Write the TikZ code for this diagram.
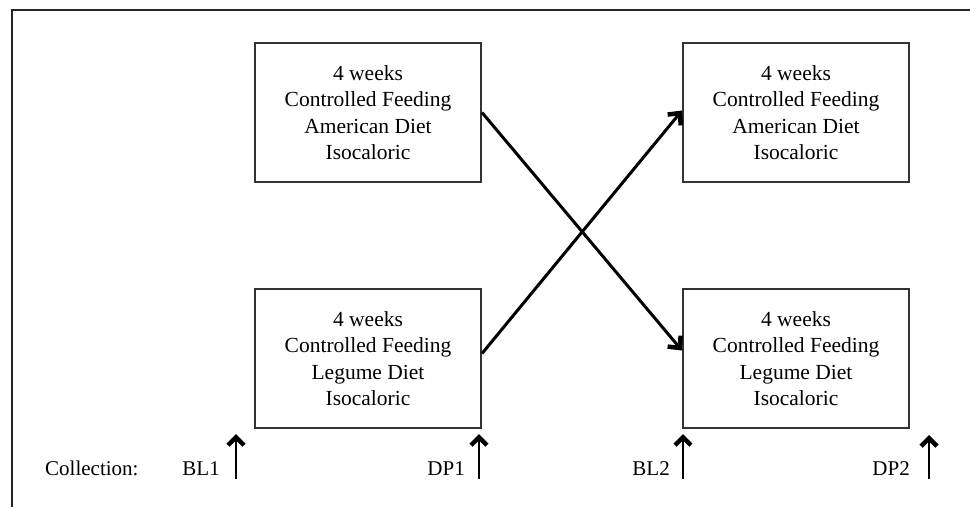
\documentclass[tikz,border=0pt]{standalone}
\usepackage{fontspec}
\setmainfont{Liberation Serif}
\usetikzlibrary{arrows.meta}
\begin{document}
\begin{tikzpicture}[x=1pt,y=-1pt,
  diet/.style={draw=black!80, line width=2pt, minimum width=226pt, minimum height=139pt,
    align=center, inner sep=0pt, font=\fontsize{21.5}{26.5}\selectfont},
  cross/.style={draw=black, line width=3pt, -{Straight Barb[length=9pt,width=17pt,line width=4.5pt]}},
  coll/.style={draw=black, line width=2.4pt, -{Straight Barb[length=8pt,width=16pt,line width=4.5pt]}},
  lbl/.style={anchor=base east, inner sep=0pt, font=\fontsize{21}{25}\selectfont}]
\useasboundingbox (0,0) rectangle (970,507);
\draw[line width=2pt, black!85] (12,507) -- (12,10) -- (970,10);

\node[diet] (tl) at (368,112.5) {4 weeks\\Controlled Feeding\\American Diet\\Isocaloric};
\node[diet] (tr) at (796,112.5) {4 weeks\\Controlled Feeding\\American Diet\\Isocaloric};
\node[diet] (bl) at (368,358.5) {4 weeks\\Controlled Feeding\\Legume Diet\\Isocaloric};
\node[diet] (br) at (796,358.5) {4 weeks\\Controlled Feeding\\Legume Diet\\Isocaloric};

\draw[cross] (tl.east) -- ([yshift=8pt]br.west);
\draw[cross] ([yshift=5pt]bl.east) -- ([yshift=2pt]tr.west);

\node[anchor=base west, inner sep=0pt, font=\fontsize{21}{25}\selectfont] (col) at (45,475) {Collection:};
\node[lbl] (bl1) at (220,475) {BL1};
\node[lbl] (dp1) at (465,475) {DP1};
\node[lbl] (bl2) at (670,475) {BL2};
\node[lbl] (dp2) at (910,475) {DP2};

\coordinate (a1s) at (236,479); \coordinate (a1e) at (236,434);
\coordinate (a2s) at (479,479); \coordinate (a2e) at (479,434);
\coordinate (a3s) at (683,479); \coordinate (a3e) at (683,434);
\coordinate (a4s) at (929,479); \coordinate (a4e) at (929,435);
\draw[coll] (a1s) -- (a1e);
\draw[coll] (a2s) -- (a2e);
\draw[coll] (a3s) -- (a3e);
\draw[coll] (a4s) -- (a4e);
\end{tikzpicture}
\end{document}
